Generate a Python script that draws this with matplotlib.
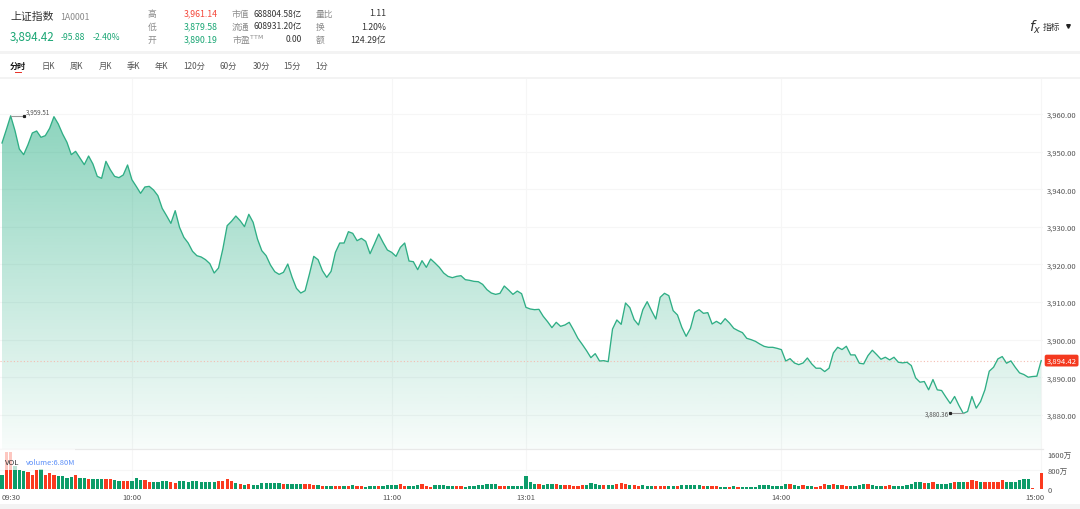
#---------------------------------------------------------------------------
# plot.py
# Intraday chart of the 上证指数 with volume panel and quote header
#---------------------------------------------------------------------------

# Import lines
import matplotlib
matplotlib.use("Agg")
import matplotlib.pyplot as plt
import numpy as np
from matplotlib.patches import Rectangle

plt.rcParams['font.family'] = ['Noto Sans CJK SC', 'DejaVu Sans']

# Data: one price per minute
price_a = [3952.29, 3955.83, 3959.51, 3955.57, 3950.69, 3949.19, 3951.84, 3954.95, 3955.48, 3953.80,
           3954.24, 3956.19, 3959.29, 3957.34, 3954.68, 3952.47, 3949.19, 3950.07, 3948.30, 3946.53,
           3948.83, 3946.70, 3943.42, 3942.89, 3947.41, 3945.20, 3943.42, 3943.07, 3943.78, 3946.44,
           3942.54, 3940.76, 3938.90, 3940.59, 3940.76, 3939.79, 3938.28, 3934.91, 3932.96, 3930.92,
           3934.29, 3929.86, 3927.20, 3925.69, 3923.48, 3922.32, 3921.97, 3921.26, 3920.20, 3917.71,
           3919.04, 3924.10, 3930.30, 3931.46, 3932.87, 3931.63, 3930.04, 3933.32, 3931.19, 3926.76,
           3923.65, 3922.32, 3919.84]
price_b = [3918.06, 3917.35, 3917.89, 3920.10, 3916.56, 3913.63, 3912.39, 3913.01, 3917.44, 3922.14,
           3921.25, 3918.33, 3916.56, 3918.15, 3923.20, 3925.69, 3925.69, 3928.70, 3928.26, 3926.31,
           3926.93, 3926.13, 3922.85, 3925.42, 3928.08, 3925.86, 3923.83, 3923.20, 3922.14, 3924.53,
           3925.69, 3920.90, 3920.72, 3918.60, 3920.99, 3919.22, 3921.43, 3920.37, 3919.22, 3917.71,
           3916.82, 3916.47, 3916.82, 3917.00, 3915.94, 3915.76, 3915.49, 3915.40, 3914.69, 3913.28,
           3912.39, 3912.03, 3912.30, 3914.25, 3913.19, 3912.03, 3912.92, 3912.21, 3908.58, 3908.14,
           3907.96, 3908.05]
price_c = [3906.19, 3904.77, 3903.18, 3904.60, 3903.53, 3903.89, 3904.60, 3902.56, 3900.34, 3898.74,
           3897.06, 3895.20, 3896.26, 3894.31, 3894.40, 3894.13, 3902.82, 3905.22, 3904.06, 3909.74,
           3908.50, 3905.30, 3903.89, 3907.96, 3910.09, 3907.70, 3905.48, 3911.24, 3912.31, 3911.69,
           3907.70, 3906.55, 3903.27, 3900.87, 3903.00, 3907.26, 3907.96, 3906.99, 3907.17, 3904.15,
           3904.86, 3904.15, 3905.57, 3904.42, 3903.00, 3902.38, 3901.85, 3900.34, 3899.99, 3899.54,
           3898.83, 3898.21, 3897.95, 3897.95, 3897.68, 3897.33, 3894.31, 3894.93, 3893.78, 3893.34,
           3893.78, 3895.11]
price_d = [3893.54, 3892.39, 3892.39, 3891.50, 3892.39, 3896.46, 3897.96, 3897.35, 3898.23, 3895.93,
           3895.93, 3893.72, 3893.54, 3895.75, 3897.17, 3896.02, 3894.78, 3895.31, 3894.60, 3895.31,
           3893.98, 3893.81, 3893.98, 3893.10, 3889.82, 3888.67, 3888.85, 3886.64, 3889.38, 3886.64,
           3886.46, 3884.69, 3883.01, 3884.87, 3882.48, 3880.36, 3880.88, 3884.87, 3881.77, 3883.54,
           3886.64, 3891.59, 3892.65, 3894.87, 3895.49, 3893.72, 3894.34, 3892.65, 3891.15, 3890.71,
           3890.00, 3890.18, 3890.27, 3894.42]

# Volume per minute in 万, r = up bar, g = down bar
vol_a = [588, 1526, 1526, 966, 798, 756, 686, 588, 798, 826, 588, 658, 588, 532, 532, 448, 504, 588, 462, 462,
         406, 392, 406, 420, 406, 392, 350, 322]
dir_a = "grrgggrrrgrrrggggrggrggg" + "rrgg"
vol_b = [308, 336, 336, 434, 364, 350, 294, 294, 294, 322, 322, 280, 252, 308, 322, 294, 322, 322, 294, 280,
         280, 280, 308, 308, 392, 336, 238, 182, 154, 210, 168, 168, 224, 224, 224, 224, 224, 196, 182, 196,
         210, 182, 182, 196, 168, 168, 126, 112, 98, 126, 126, 112, 98]
dir_b = "rrgggrr" + "gggg" + "rr" + "ggggggggg" + "rrrr" + "grgr" + "ggggggg" + "r" + "gggg" + "rrr" + "grgg" + "rrgr"
vol_c = [154, 126, 112, 84, 126, 126, 98, 126, 140, 140, 154, 196, 126, 126, 126, 140, 196, 126, 84, 140,
         140, 140, 126, 126, 98, 112, 84, 112, 126, 140, 154, 182, 182, 182, 126, 126, 126, 126, 112, 126,
         532, 280, 210, 210, 140, 182, 210, 182, 140, 140, 140]
dir_c = "grrgggrggggrrgggrrrgggggrrggggggggrrgggggggrgggrgrr"
vol_d = [126, 126, 140, 168, 224, 210, 168, 154, 168, 168, 182, 252, 182, 168, 168, 126, 154, 126, 98, 98,
         126, 112, 112, 112, 112, 168, 154, 140, 140, 140, 98, 98, 126, 112, 84, 84, 70, 98, 70, 84,
         70, 70, 84, 154, 140, 140, 126, 126]
dir_d = "rrrggggrggrrrgrrgggrrrggrgggggrgrrggrgrggggggggg"
vol_e = [112, 182, 182, 140, 126, 140, 112, 98, 84, 98, 182, 154, 182, 140, 154, 112, 126, 126, 154, 182,
         196, 154, 126, 98, 126, 140, 126, 126, 126, 154, 210, 266, 294, 238, 252, 280, 210, 196, 210, 238,
         294, 294, 294, 294, 350, 308, 280, 294, 294, 294, 266]
dir_e = "ggrggrggrrrgrgrrggggrgggrrgggggggrgrggggrggrrrgrrrr"
vol_f = [350, 266, 266, 266, 350, 406, 406, 28, 0, 680]
dir_f = "rggggggrrr"

# Ticks and labels
price_ticks = [3880, 3890, 3900, 3910, 3920, 3930, 3940, 3950, 3960]
vol_ticks = [0, 800, 1600]
vol_tick_labels = ["0", "800万", "1600万"]
time_ticks = [0, 30, 90, 121, 180, 240]
time_labels = ["09:30", "10:00", "11:00", "13:01", "14:00", "15:00"]
grid_minutes = [30, 90, 121, 180, 240]
last_price = 3894.42

quote_rows = [("高", "3,961.14", "#f4473a", "市值", "688804.58亿", "量比", "1.11"),
              ("低", "3,879.58", "#1aa674", "流通", "608931.20亿", "换", "1.20%"),
              ("开", "3,890.19", "#1aa674", "市盈$^{\\mathrm{TTM}}$", "0.00", "额", "124.29亿")]
tab_names = ["分时", "日K", "周K", "月K", "季K", "年K", "120分", "60分", "30分", "15分", "1分"]
tab_x = [18, 48, 76, 105, 133, 161, 194, 228, 261, 292, 322]

# Colours
GREEN_LINE = "#2fae85"
BAR_RED = "#fb3a1f"
BAR_GREEN = "#0c9c69"
TEXT = "#333333"
GREY = "#8a8a8a"
TICK = "#555555"
GRID = "#f6f6f6"
BAND = "#f3f3f3"

prices = np.array(price_a + price_b + price_c + price_d)
volumes = np.array(vol_a + vol_b + vol_c + vol_d + vol_e + vol_f)
updown = dir_a + dir_b + dir_c + dir_d + dir_e + dir_f
minutes = np.arange(len(prices))

W, H = 1080, 510
fig = plt.figure(figsize=(W / 100, H / 100), dpi=100, facecolor="white")


def px_axes(left, top, right, bottom):
    return fig.add_axes([left / W, 1 - bottom / H, (right - left) / W, (bottom - top) / H])


# Background layer in pixel coordinates
bg = fig.add_axes([0, 0, 1, 1], zorder=0)
bg.set_xlim(0, W)
bg.set_ylim(H, 0)
bg.axis("off")
for y0, y1 in [(0, 1), (52, 55), (78, 80), (505, 510)]:
    bg.add_patch(Rectangle((0, y0), W, y1 - y0, color=BAND, lw=0))

# Header
bg.text(10, 17, "上证指数", fontsize=7.8, color=TEXT, va="center")
bg.text(60, 17, "1A0001", fontsize=6.3, color=GREY, va="center")
bg.text(10, 37.5, "3,894.42", fontsize=8.3, color="#1aa674", va="center")
bg.text(61, 38, "-95.88", fontsize=6.2, color="#1aa674", va="center")
bg.text(93, 38, "-2.40%", fontsize=6.2, color="#1aa674", va="center")
for row, y in zip(quote_rows, [14, 27, 40]):
    bg.text(148, y, row[0], fontsize=6.3, color=GREY, va="center")
    bg.text(217.5, y, row[1], fontsize=6.3, color=row[2], va="center", ha="right")
    bg.text(232, y, row[3], fontsize=6.3, color=GREY, va="center")
    bg.text(302, y, row[4], fontsize=6.1, color=TEXT, va="center", ha="right")
    bg.text(316, y, row[5], fontsize=6.3, color=GREY, va="center")
    bg.text(386, y, row[6], fontsize=6.3, color=TEXT, va="center", ha="right")

bg.text(1035, 27, "$f_x$", fontsize=10, color=TEXT, va="center", ha="center")
bg.text(1051, 27.5, "指标", fontsize=6.3, color=TEXT, va="center", ha="center")
bg.plot([1068], [26.5], marker="v", ms=2.6, color="#222222", lw=0)

# Tabs
for i, (name, x) in enumerate(zip(tab_names, tab_x)):
    bg.text(x, 66.2, name, fontsize=5.9, ha="center", va="center", color="#111111" if i == 0 else "#555555",
            fontweight="bold" if i == 0 else "normal")
bg.add_patch(Rectangle((15, 73), 7, 1, color="#e8352b", lw=0))

# Price panel, minute i sits at pixel 2 + 4.33 * i
ax = px_axes(0, 80, 1043, 450)
ax.set_zorder(1)
ax.set_facecolor("none")
xlim = (-2 / 4.33, 1041 / 4.33)
ylim = (3960 - (450 - 115) / 3.76, 3960 + 35 / 3.76)

fill = ax.fill_between(minutes, prices, ylim[0], color="none", lw=0)
shade = np.zeros((256, 1, 4))
shade[..., 1] = 160 / 255
shade[..., 2] = 110 / 255
shade[..., 3] = np.linspace(0.45, 0.03, 256)[:, None]
img = ax.imshow(shade, extent=[minutes[0], minutes[-1], ylim[0], prices.max()],
                aspect="auto", origin="upper", zorder=1)
img.set_clip_path(fill.get_paths()[0], ax.transData)
ax.set_xlim(xlim)
ax.set_ylim(ylim)

ax.plot(minutes, prices, color=GREEN_LINE, lw=0.95, zorder=3)
ax.axhline(last_price, color="#f5bcb0", lw=0.8, ls=(0, (1, 2)), zorder=2)

ax.set_xticks(grid_minutes)
ax.set_xticklabels([])
ax.tick_params(axis="x", length=0)
ax.yaxis.tick_right()
ax.set_yticks(price_ticks)
ax.set_yticklabels([f"{v:,.2f}" for v in price_ticks], fontsize=5.5, color=TICK)
ax.tick_params(axis="y", length=0, pad=3)
ax.grid(True, color=GRID, lw=0.8)
ax.set_axisbelow(True)
for side in ["top", "left", "bottom", "right"]:
    ax.spines[side].set_visible(False)

# High and low markers
hi = int(np.argmax(prices))
lo = int(np.argmin(prices))
ax.plot([hi, hi + 3.0], [prices[hi], prices[hi]], color="#9a9a9a", lw=0.8, zorder=4)
ax.plot([hi + 3.0], [prices[hi]], marker="s", ms=1.3, color="#222222", zorder=4)
ax.annotate(f"{prices[hi]:,.2f}", (hi + 3.4, prices[hi]), fontsize=4.5, color=TICK, va="bottom", ha="left")
ax.plot([lo, lo - 3.1], [prices[lo], prices[lo]], color="#9a9a9a", lw=0.8, zorder=4)
ax.plot([lo - 3.1], [prices[lo]], marker="s", ms=1.3, color="#222222", zorder=4)
ax.annotate(f"{prices[lo]:,.2f}", (lo - 3.4, prices[lo]), fontsize=4.5, color=TICK, va="center", ha="right")

# Last price tag
ax.annotate(f"{last_price:,.2f}", (1.0, last_price), xycoords=ax.get_yaxis_transform(),
            xytext=(2.6, 0), textcoords="offset points", fontsize=5.5, color="white", va="center", ha="left",
            annotation_clip=False, zorder=6,
            bbox=dict(boxstyle="round,pad=0.25", fc="#f4391f", ec="none"))

# Volume panel
vax = px_axes(0, 450, 1043, 489.7)
vax.set_zorder(2)
vax.set_xlim(xlim)
vax.set_ylim(0, 39.7 / 19 * 800)
bar_colors = [BAR_RED if d == "r" else BAR_GREEN for d in updown]
vax.bar(np.arange(len(volumes)), volumes, width=0.75, color=bar_colors, lw=0, zorder=3)
vax.set_yticks(vol_ticks)
vax.yaxis.tick_right()
labels = vax.set_yticklabels(vol_tick_labels, fontsize=5.4, color=TICK)
labels[2].set_va("top")
vax.tick_params(axis="y", length=0, pad=3)
for m in grid_minutes:
    vax.axvline(m, color=GRID, lw=0.8, zorder=1)
vax.axhline(800, color=GRID, lw=0.8, zorder=1)
vax.set_xticks(time_ticks[:-1])
xlabels = vax.set_xticklabels(time_labels[:-1], fontsize=5.5, color=TICK)
xlabels[0].set_ha("left")
vax.tick_params(axis="x", length=0, pad=3)
# the closing label is pushed a little past its gridline
vax.annotate(time_labels[-1], (time_ticks[-1], 0), xytext=(2.2, -3), textcoords="offset points",
             fontsize=5.5, color=TICK, ha="right", va="top", annotation_clip=False)
for side in ["left", "bottom", "right"]:
    vax.spines[side].set_visible(False)
vax.spines["top"].set_color("#e9e9e9")
vax.spines["top"].set_linewidth(0.9)

# Legend sits on a translucent white box over the tall opening bars
vax.add_patch(Rectangle((0, 450), 75, 20.5, transform=bg.transData, fc="white", ec="none", alpha=0.72, zorder=4))
vax.text(5, 463, "VOL", transform=bg.transData, fontsize=5.6, color=TEXT, va="center", zorder=5)
vax.text(26, 463, "volume:6.80M", transform=bg.transData, fontsize=5.4, color="#5b8ff9", va="center", zorder=5)

fig.savefig("out.png", dpi=100)
